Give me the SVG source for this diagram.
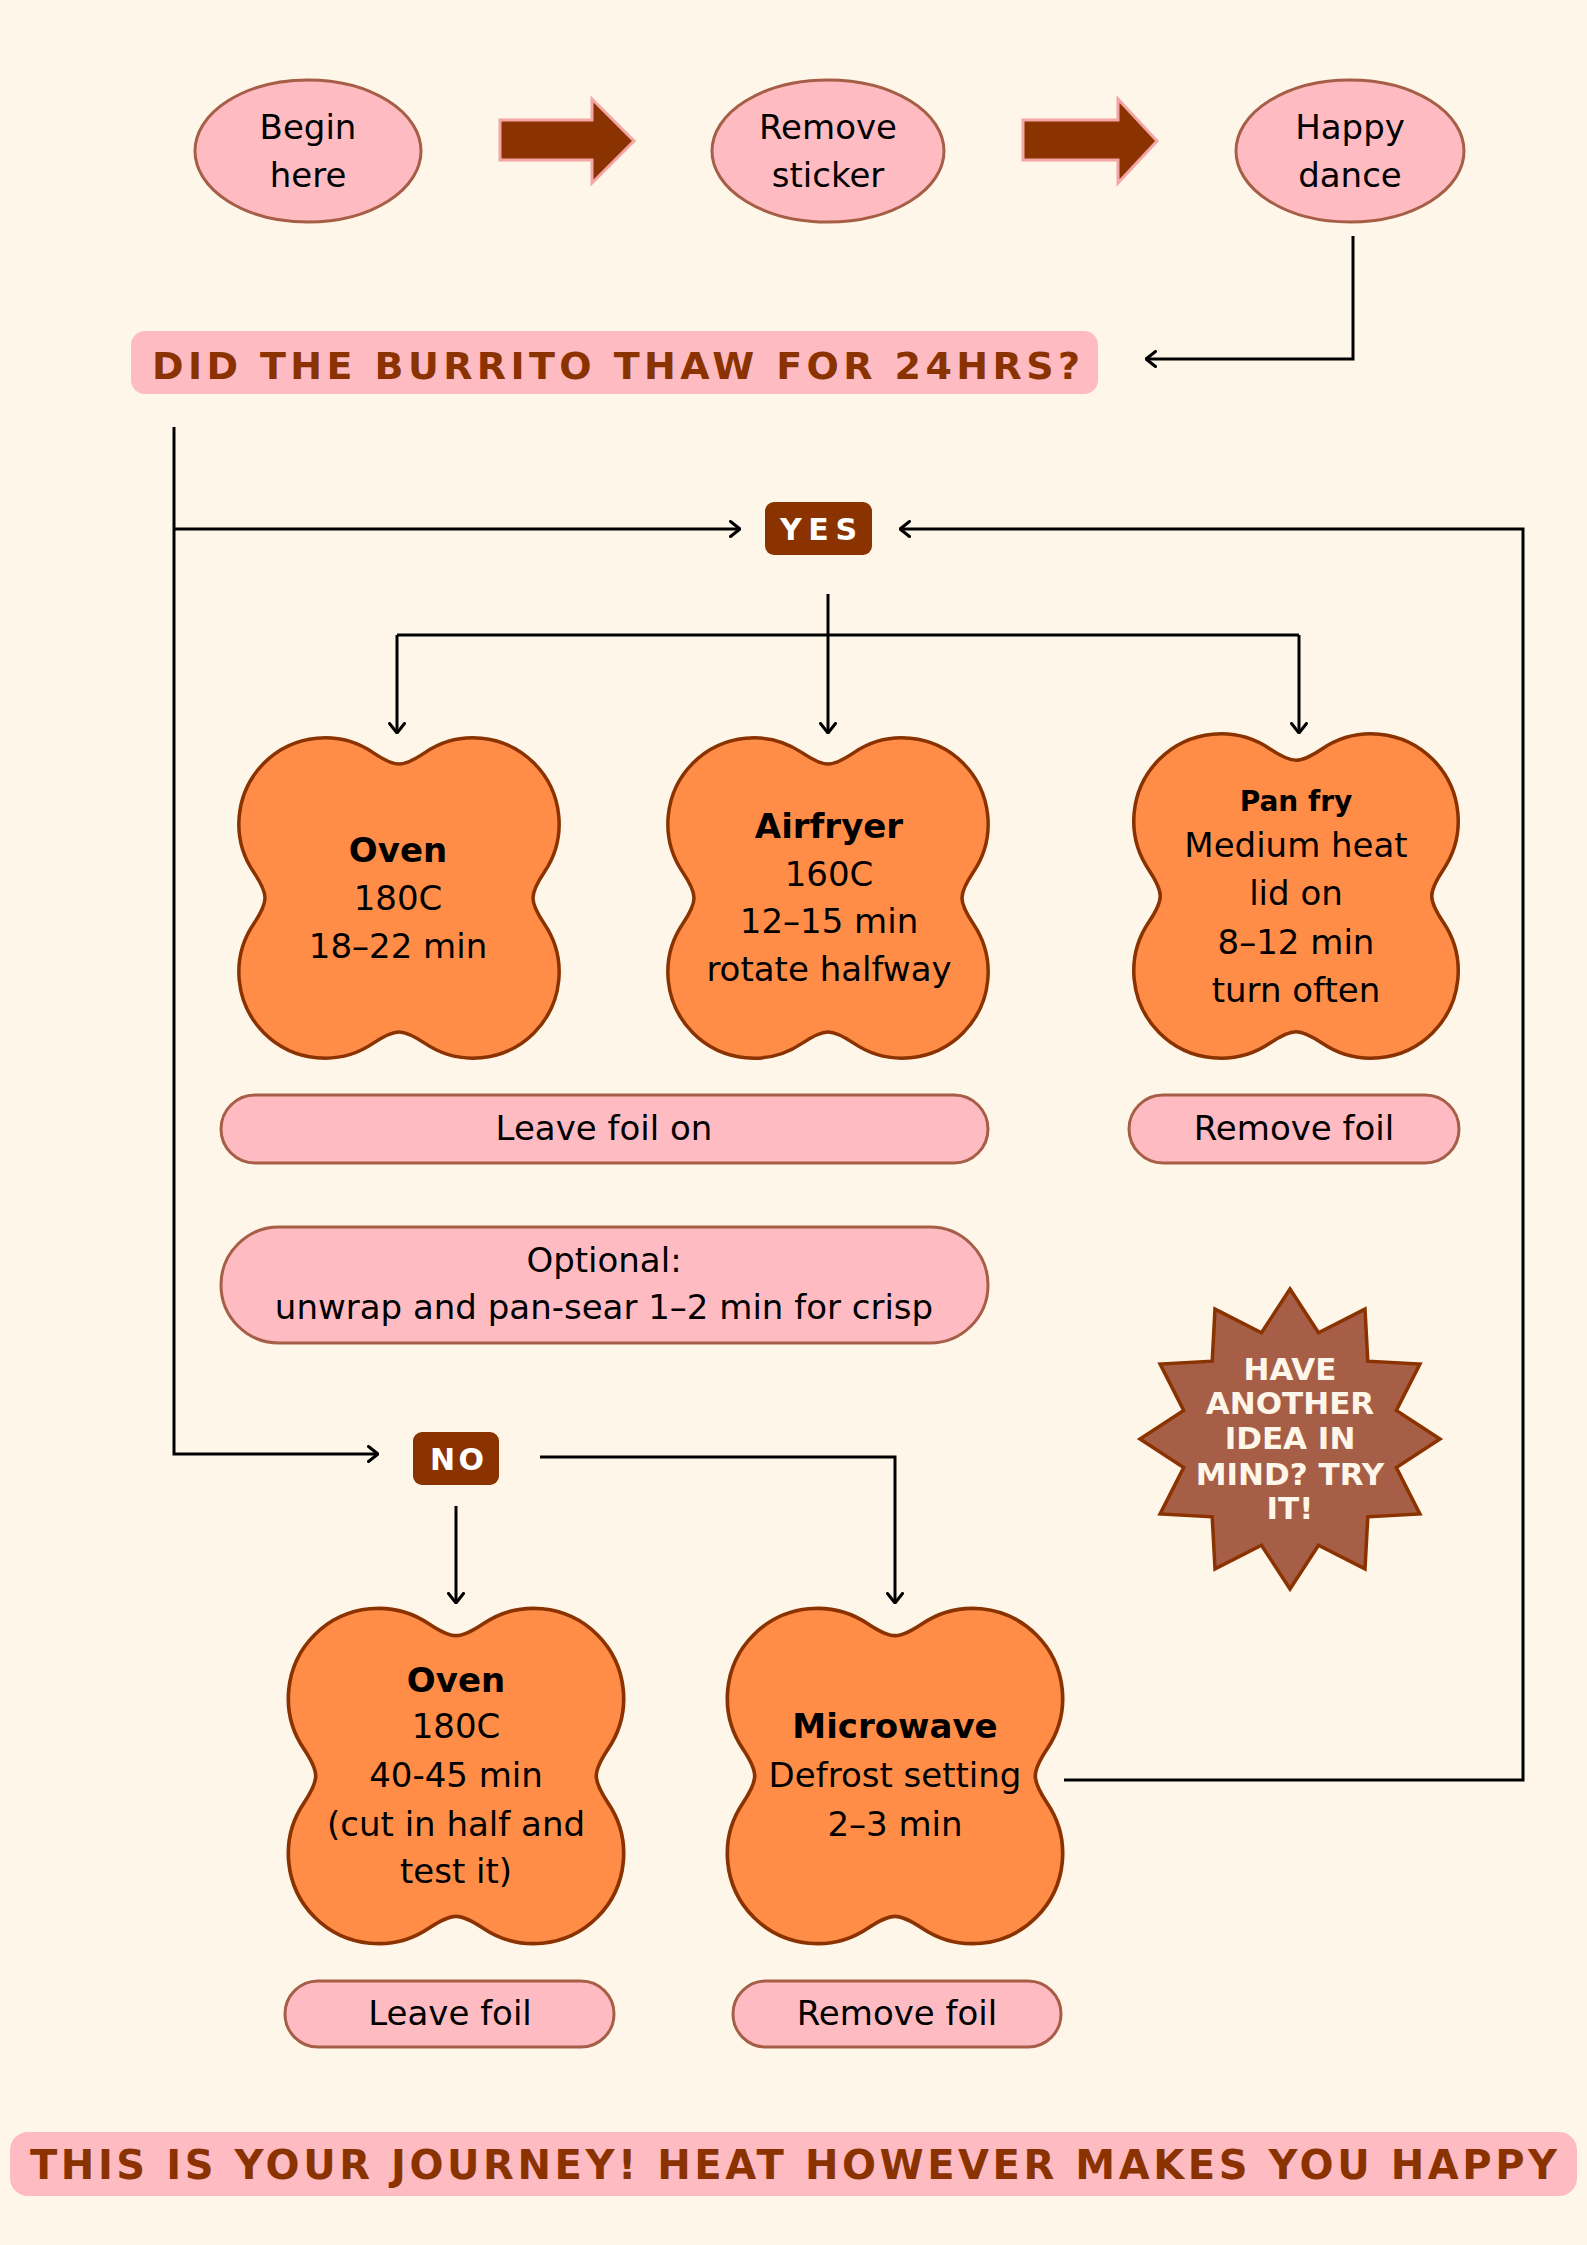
<svg xmlns="http://www.w3.org/2000/svg" width="1587" height="2245" viewBox="0 0 1587 2245">
<style>
.bg{fill:#FFF6EA}
.oval{fill:#FFBBC2;stroke:#A65E46;stroke-width:3}
.pill{fill:#FFBBC2;stroke:#A65E46;stroke-width:3}
.clover{fill:#FF8C47;stroke:#8A3300;stroke-width:3.5}
.block{fill:#8A3300;stroke:#F4A6A6;stroke-width:3}
.badge{fill:#8A3300}
.conn{fill:none;stroke:#000;stroke-width:3}
.t{font-family:'DejaVu Sans',sans-serif;font-size:34px;fill:#000;text-anchor:middle}
.b{font-weight:bold}
.head{font-family:'DejaVu Sans',sans-serif;font-weight:bold;font-size:38px;fill:#8A3300}
.badgeT{font-family:'DejaVu Sans',sans-serif;font-weight:bold;font-size:30px;fill:#FFFFFF}
.starT{font-family:'DejaVu Sans',sans-serif;font-weight:bold;font-size:31px;fill:#FFF6EA;text-anchor:middle}
</style>
<defs>
<path id="clover" d="M0,-134 Q-9,-134 -26,-145.4 A86,86 0 0 0 -145.4,-26 Q-134,-9 -134,0 Q-134,9 -145.4,26 A86,86 0 0 0 -26,145.4 Q-9,134 0,134 Q9,134 26,145.4 A86,86 0 0 0 145.4,26 Q134,9 134,0 Q134,-9 145.4,-26 A86,86 0 0 0 26,-145.4 Q9,-134 0,-134 Z"/>
<marker id="ah" viewBox="0 0 12 18" refX="11" refY="9" markerWidth="12" markerHeight="18" orient="auto" markerUnits="userSpaceOnUse">
<path d="M1.5,1.5 L11,9 L1.5,16.5" fill="none" stroke="#000" stroke-width="3" stroke-linecap="round" stroke-linejoin="round"/>
</marker>
</defs>
<rect class="bg" x="0" y="0" width="1587" height="2245"/>

<g id="connectors">
<polygon class="block" points="500,120 592,120 592,99 634,141 592,183 592,160 500,160"/>
<polygon class="block" points="1023,120 1118,120 1118,99 1157,141 1118,183 1118,160 1023,160"/>
<path class="conn" d="M1353,236 V359 H1146" marker-end="url(#ah)"/>
<path class="conn" d="M174,427 V1454 H378" marker-end="url(#ah)"/>
<path class="conn" d="M174,529 H740" marker-end="url(#ah)"/>
<path class="conn" d="M1064,1780 H1523 V529 H900" marker-end="url(#ah)"/>
<path class="conn" d="M828,594 V733" marker-end="url(#ah)"/>
<path class="conn" d="M397,635 H1299"/>
<path class="conn" d="M397,635 V733" marker-end="url(#ah)"/>
<path class="conn" d="M1299,635 V733" marker-end="url(#ah)"/>
<path class="conn" d="M456,1506 V1603" marker-end="url(#ah)"/>
<path class="conn" d="M540,1457 H895 V1603" marker-end="url(#ah)"/>
</g>

<g id="begin">
<ellipse class="oval" cx="308" cy="151" rx="113" ry="71"/>
<text class="t" x="308" y="139">Begin</text>
<text class="t" x="308" y="187">here</text>
</g>
<g id="remove-sticker">
<ellipse class="oval" cx="828" cy="151" rx="116" ry="71"/>
<text class="t" x="828" y="139">Remove</text>
<text class="t" x="828" y="187">sticker</text>
</g>
<g id="happy-dance">
<ellipse class="oval" cx="1350" cy="151" rx="114" ry="71"/>
<text class="t" x="1350" y="139">Happy</text>
<text class="t" x="1350" y="187">dance</text>
</g>

<g id="question">
<rect x="131" y="331" width="967" height="63" rx="14" fill="#FFBBC2"/>
<text class="head" x="152" y="379" textLength="928" lengthAdjust="spacing">DID THE BURRITO THAW FOR 24HRS?</text>
</g>

<g id="yes">
<rect class="badge" x="765" y="502" width="107" height="53" rx="9"/>
<text class="badgeT" x="780" y="540" textLength="77" lengthAdjust="spacing">YES</text>
</g>

<g id="no">
<rect class="badge" x="413" y="1432" width="86" height="53" rx="9"/>
<text class="badgeT" x="430" y="1470" textLength="54" lengthAdjust="spacing">NO</text>
</g>

<g id="oven-thawed">
<use href="#clover" class="clover" transform="translate(399,898)"/>
<text class="t b" x="398" y="862">Oven</text>
<text class="t" x="398" y="910">180C</text>
<text class="t" x="398" y="958">18–22 min</text>
</g>

<g id="airfryer">
<use href="#clover" class="clover" transform="translate(828,898)"/>
<text class="t b" x="829" y="838">Airfryer</text>
<text class="t" x="829" y="886">160C</text>
<text class="t" x="829" y="933">12–15 min</text>
<text class="t" x="829" y="981">rotate halfway</text>
</g>

<g id="pan-fry">
<use href="#clover" class="clover" transform="translate(1296,896) scale(1.013)"/>
<text class="t b" x="1296" y="811" style="font-size:28px">Pan fry</text>
<text class="t" x="1296" y="857">Medium heat</text>
<text class="t" x="1296" y="905">lid on</text>
<text class="t" x="1296" y="954">8–12 min</text>
<text class="t" x="1296" y="1002">turn often</text>
</g>

<g id="leave-foil-on">
<rect class="pill" x="221" y="1095" width="767" height="68" rx="34"/>
<text class="t" x="604" y="1140">Leave foil on</text>
</g>

<g id="remove-foil-1">
<rect class="pill" x="1129" y="1095" width="330" height="68" rx="34"/>
<text class="t" x="1294" y="1140">Remove foil</text>
</g>

<g id="optional">
<rect class="pill" x="221" y="1227" width="767" height="116" rx="58"/>
<text class="t" x="604" y="1272">Optional:</text>
<text class="t" x="604" y="1319">unwrap and pan-sear 1–2 min for crisp</text>
</g>

<g id="star">
<polygon points="1290,1289 1318.5,1332.7 1365,1309.1 1367.8,1361.2 1419.9,1364 1396.3,1410.5 1440,1439 1396.3,1467.5 1419.9,1514 1367.8,1516.8 1365,1568.9 1318.5,1545.3 1290,1589 1261.5,1545.3 1215,1568.9 1212.2,1516.8 1160.1,1514 1183.7,1467.5 1140,1439 1183.7,1410.5 1160.1,1364 1212.2,1361.2 1215,1309.1 1261.5,1332.7" fill="#A65E46" stroke="#8A3300" stroke-width="3.5" stroke-linejoin="miter"/>
<text class="starT" x="1290" y="1380">HAVE</text>
<text class="starT" x="1290" y="1414">ANOTHER</text>
<text class="starT" x="1290" y="1449">IDEA IN</text>
<text class="starT" x="1290" y="1485">MIND? TRY</text>
<text class="starT" x="1290" y="1519">IT!</text>
</g>

<g id="oven-frozen">
<use href="#clover" class="clover" transform="translate(456,1776) scale(1.047)"/>
<text class="t b" x="456" y="1692">Oven</text>
<text class="t" x="456" y="1738">180C</text>
<text class="t" x="456" y="1787">40-45 min</text>
<text class="t" x="456" y="1836">(cut in half and</text>
<text class="t" x="456" y="1883">test it)</text>
</g>

<g id="microwave">
<use href="#clover" class="clover" transform="translate(895,1776) scale(1.047)"/>
<text class="t b" x="895" y="1738">Microwave</text>
<text class="t" x="895" y="1787">Defrost setting</text>
<text class="t" x="895" y="1836">2–3 min</text>
</g>

<g id="leave-foil">
<rect class="pill" x="285" y="1981" width="329" height="66" rx="33"/>
<text class="t" x="450" y="2025">Leave foil</text>
</g>

<g id="remove-foil-2">
<rect class="pill" x="733" y="1981" width="328" height="66" rx="33"/>
<text class="t" x="897" y="2025">Remove foil</text>
</g>

<g id="banner">
<rect x="10" y="2132" width="1567" height="64" rx="18" fill="#FFBBC2"/>
<text class="head" x="30" y="2179" style="font-size:40px" textLength="1527" lengthAdjust="spacing">THIS IS YOUR JOURNEY! HEAT HOWEVER MAKES YOU HAPPY</text>
</g>
</svg>
